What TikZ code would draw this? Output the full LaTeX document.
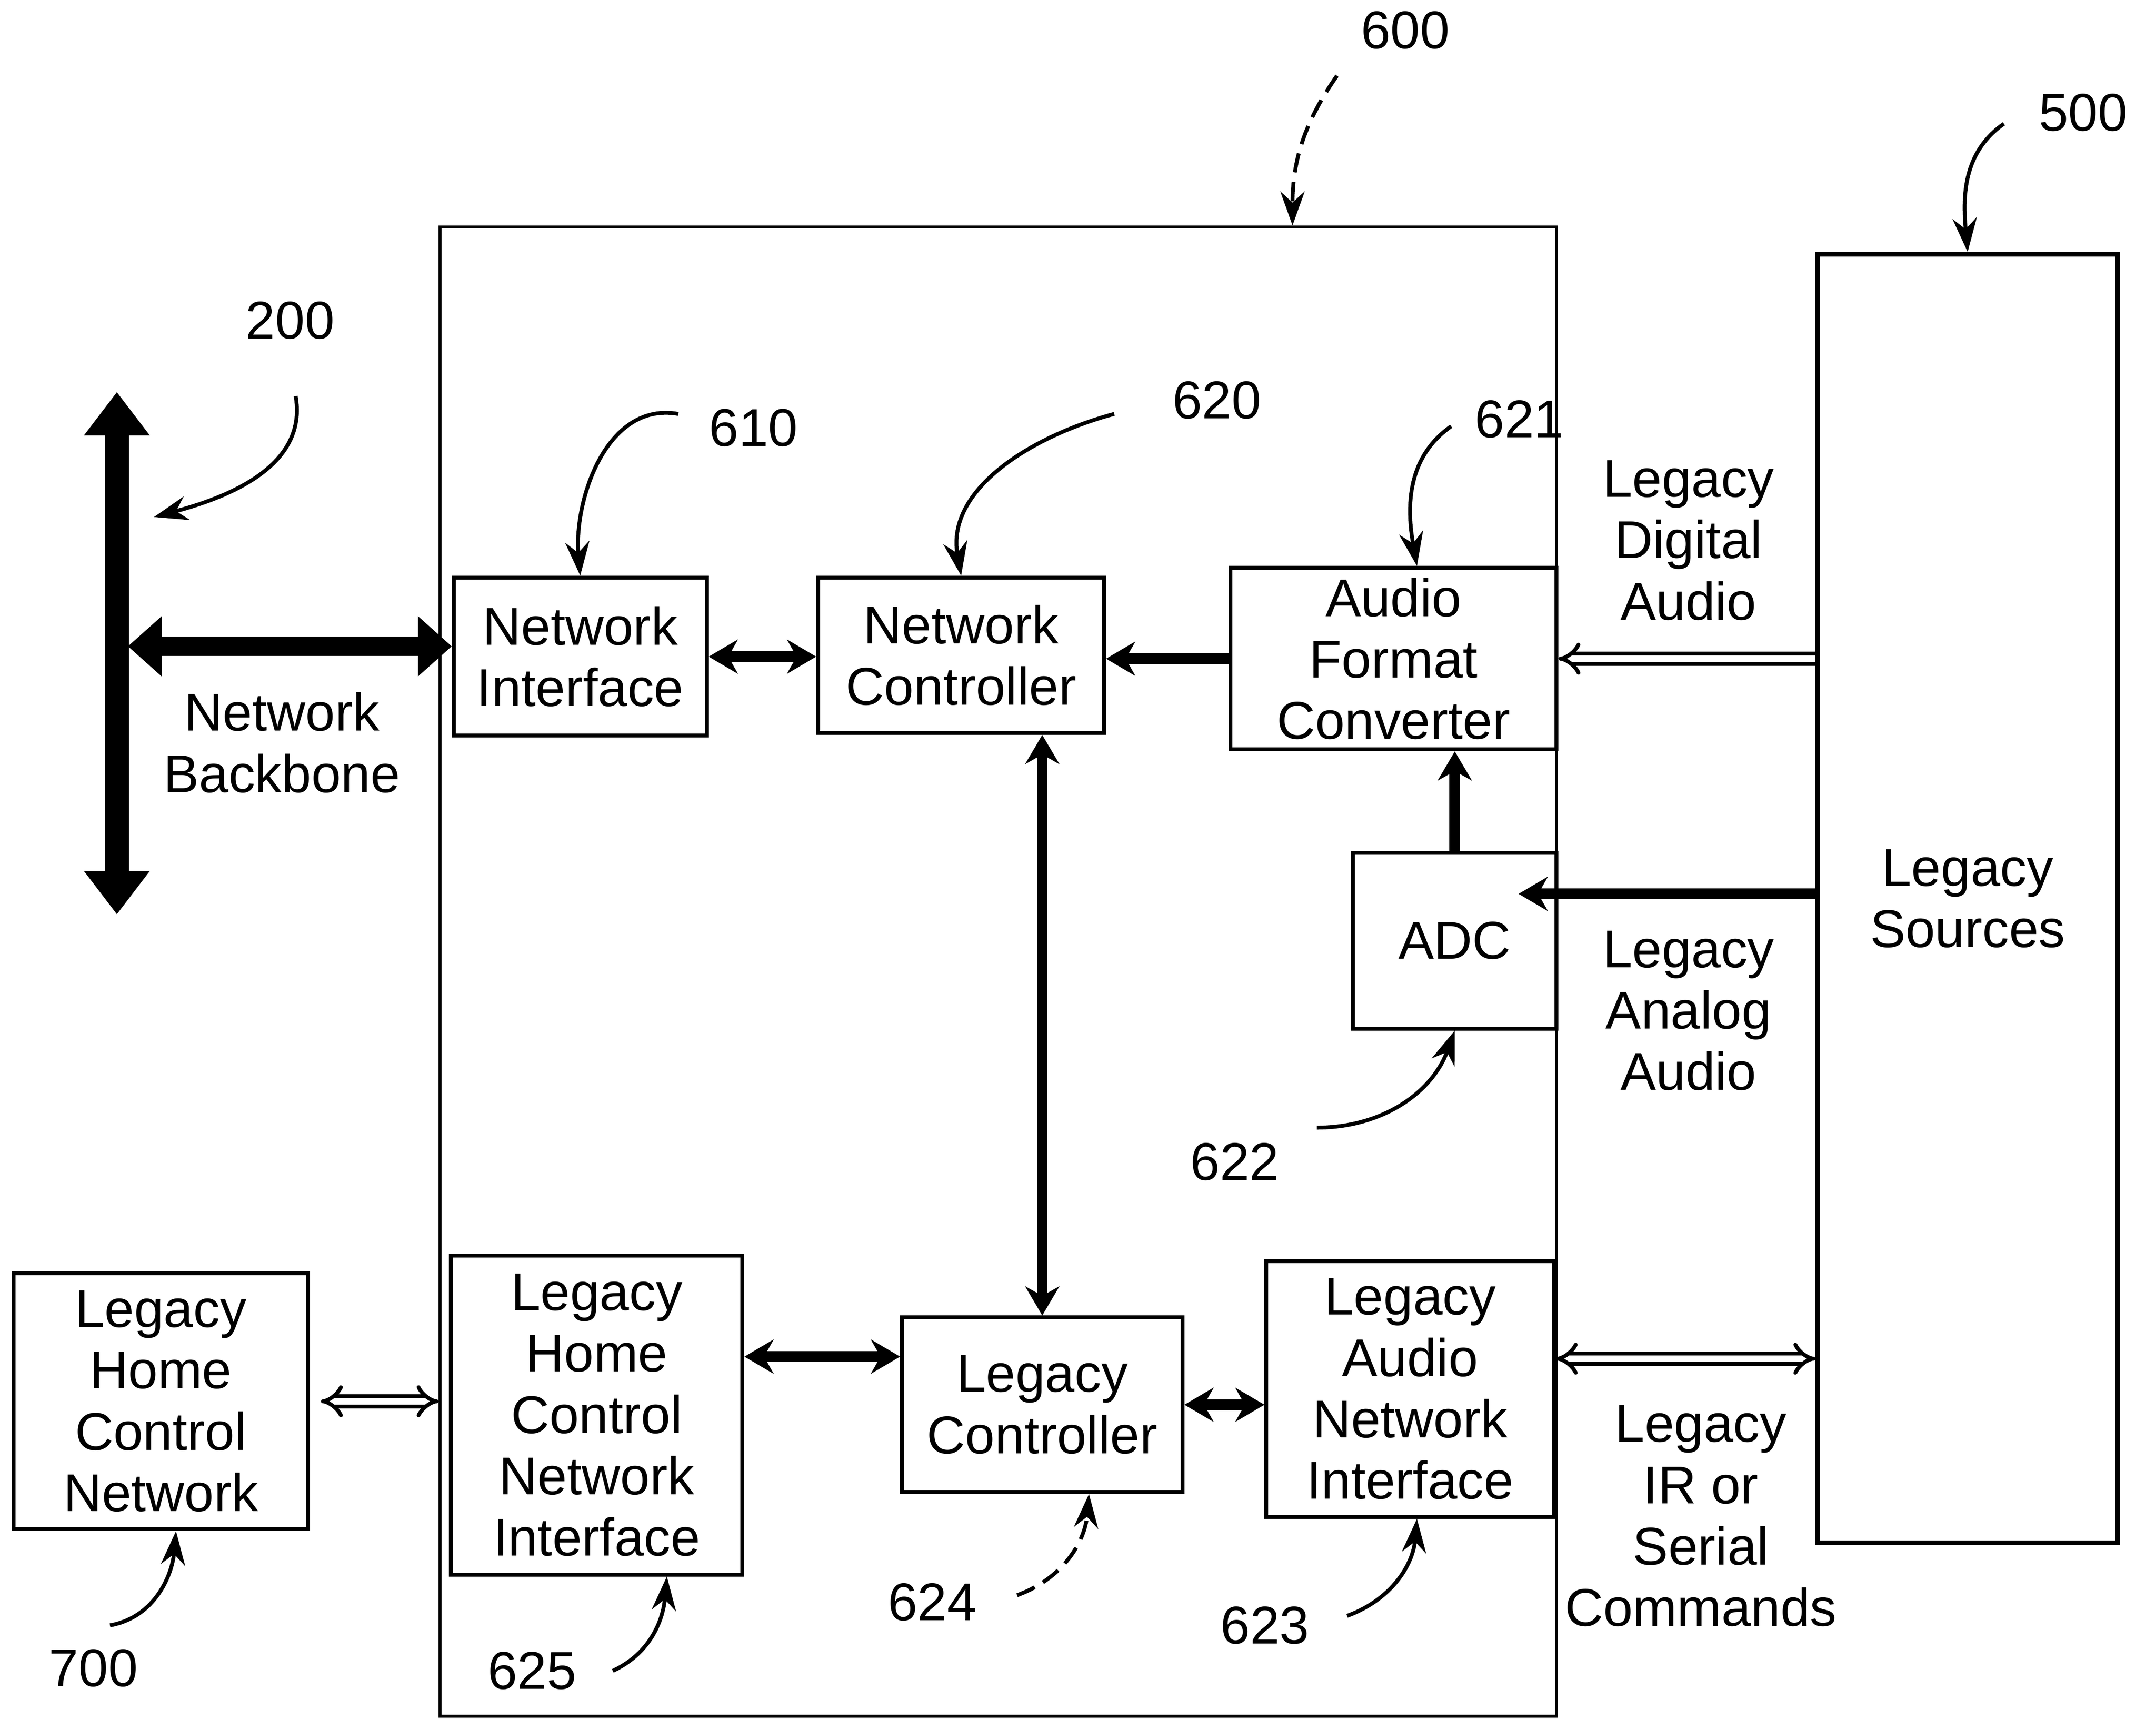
\documentclass[tikz,border=0pt]{standalone}
\usepackage{fontspec}
\setmainfont{Liberation Sans}
\usetikzlibrary{arrows.meta}

\begin{document}
\begin{tikzpicture}[
    box/.style={draw, line width=0.8pt, align=center, inner sep=0pt},
    lbl/.style={align=center, inner sep=1pt},
    bus/.style={line width=2.2pt, {Stealth[length=6pt,width=7pt]}-{Stealth[length=6pt,width=7pt]}},
    feed/.style={line width=2.2pt, -{Stealth[length=6pt,width=7pt]}},
    hollow/.style={double, double distance=1.4pt, line width=0.8pt, {Implies}-{Implies}},
    callout/.style={line width=0.8pt, -{Stealth[length=7pt,width=5pt]}},
    font=\fontsize{11}{12.7}\selectfont]
    \useasboundingbox (0,0) rectangle (15.68,12.50);

    \node[box, line width=0.6pt, minimum width=8.12cm, minimum height=10.83cm] (dev) at (7.26,5.435) {};
    \node[box, line width=1pt, minimum width=2.18cm, minimum height=9.37cm] (src) at (14.31,5.965) {Legacy\\Sources};

    \node[box, minimum width=1.84cm, minimum height=1.15cm] (ni) at (4.22,7.725) {Network\\Interface};
    \node[box, minimum width=2.08cm, minimum height=1.13cm] (nc) at (6.99,7.735) {Network\\Controller};
    \node[box, minimum width=2.37cm, minimum height=1.32cm] (afc) at (10.135,7.71) {Audio\\Format\\Converter};
    \node[box, minimum width=1.48cm, minimum height=1.28cm] (adc) at (10.58,5.66) {ADC};
    \node[box, minimum width=2.12cm, minimum height=2.32cm] (lhcni) at (4.34,2.21) {Legacy\\Home\\Control\\Network\\Interface};
    \node[box, minimum width=2.04cm, minimum height=1.27cm] (lc) at (7.58,2.285) {Legacy\\Controller};
    \node[box, minimum width=2.09cm, minimum height=1.86cm] (lani) at (10.255,2.40) {Legacy\\Audio\\Network\\Interface};
    \node[box, minimum width=2.14cm, minimum height=1.86cm] (lhcn) at (1.17,2.31) {Legacy\\Home\\Control\\Network};

    \node[lbl] (bbtext) at (2.05,7.10) {Network\\Backbone};
    \node[lbl] (digital) at (12.28,8.57) {Legacy\\Digital\\Audio};
    \node[lbl] (analog) at (12.28,5.15) {Legacy\\Analog\\Audio};
    \node[lbl] (ircmd) at (12.37,1.475) {Legacy\\IR or\\Serial\\Commands};

    \node (n200) at (2.11,10.17) {200};
    \node (n600) at (10.22,12.28) {600};
    \node (n500) at (15.15,11.68) {500};
    \node (n610) at (5.48,9.39) {610};
    \node (n620) at (8.85,9.59) {620};
    \node (n621) at (11.05,9.45) {621};
    \node (n622) at (8.98,4.05) {622};
    \node (n623) at (9.20,0.68) {623};
    \node (n624) at (6.78,0.85) {624};
    \node (n625) at (3.87,0.35) {625};
    \node (n700) at (0.68,0.37) {700};

    \coordinate (bbtop) at (0.85,9.65);
    \coordinate (bbbot) at (0.85,5.85);
    \coordinate (bbjoin) at (0.93,7.80);
    \coordinate (bbtag) at (1.12,8.74);
    \draw[line width=5pt, {Triangle[length=9pt,width=13pt]}-{Triangle[length=9pt,width=13pt]}] (bbtop) -- (bbbot);
    \draw[line width=4pt, {Triangle[length=7pt,width=12pt]}-{Triangle[length=7pt,width=12pt]}] (bbjoin) -- (bbjoin -| ni.west);

    \draw[bus] (ni.east) -- (ni.east -| nc.west);
    \draw[feed] (afc.west) -- (afc.west -| nc.east);
    \draw[double, double distance=1.4pt, line width=0.8pt, -{Implies}] (afc.east -| src.west) -- (afc.east);
    \coordinate (adcin) at ([shift={(-0.29,0.34)}]adc.east);
    \draw[feed] (adcin -| src.west) -- (adcin);
    \draw[feed] (adc.north) -- (adc.north |- afc.south);
    \draw[bus] (lc.north |- nc.south) -- (lc.north);
    \coordinate (lcin) at ([yshift=3.5mm]lc.west);
    \draw[bus] (lcin -| lhcni.east) -- (lcin);
    \draw[bus] (lc.east) -- (lc.east -| lani.west);
    \coordinate (laniout) at ([yshift=2.2mm]lani.east);
    \draw[hollow] (laniout) -- (laniout -| src.west);
    \draw[hollow, shorten <=0.8mm] (lhcn.east) -- (lhcn.east -| dev.west);

    \draw[callout] ([shift={(0.04,-0.55)}]n200.center) to[out=-80,in=15] (bbtag);
    \draw[callout, dash pattern=on 4pt off 2pt] ([xshift=-0.5mm,yshift=-0.7mm]n600.south west) to[out=235,in=90] ([xshift=21.4mm]dev.north);
    \draw[callout] ([xshift=-1.3mm,yshift=-0.8mm]n500.west) to[out=215,in=95] (src.north);
    \draw[callout] ([xshift=-1mm,yshift=1mm]n610.west) to[out=170,in=95] (ni.north);
    \draw[callout] ([xshift=-3mm,yshift=-1mm]n620.west) to[out=195,in=100] (nc.north);
    \draw[callout] ([xshift=-0.5mm,yshift=-0.5mm]n621.west) to[out=215,in=100] ([xshift=1.7mm]afc.north);
    \draw[callout] ([xshift=1.5mm,yshift=2.5mm]n622.east) to[out=0,in=-110] (adc.south);
    \draw[callout] ([xshift=1.5mm,yshift=0.7mm]n623.east) to[out=20,in=-95] ([xshift=0.5mm]lani.south);
    \draw[callout, dash pattern=on 4pt off 2pt] ([xshift=1.7mm,yshift=0.5mm]n624.east) to[out=20,in=-95] ([xshift=3.4mm]lc.south);
    \draw[callout] ([xshift=1.4mm]n625.east) to[out=25,in=-95] ([xshift=5.1mm]lhcni.south);
    \draw[callout] ([xshift=1.2mm,yshift=0.5mm]n700.north) to[out=10,in=-95] ([xshift=1.1mm]lhcn.south);
\end{tikzpicture}
\end{document}
